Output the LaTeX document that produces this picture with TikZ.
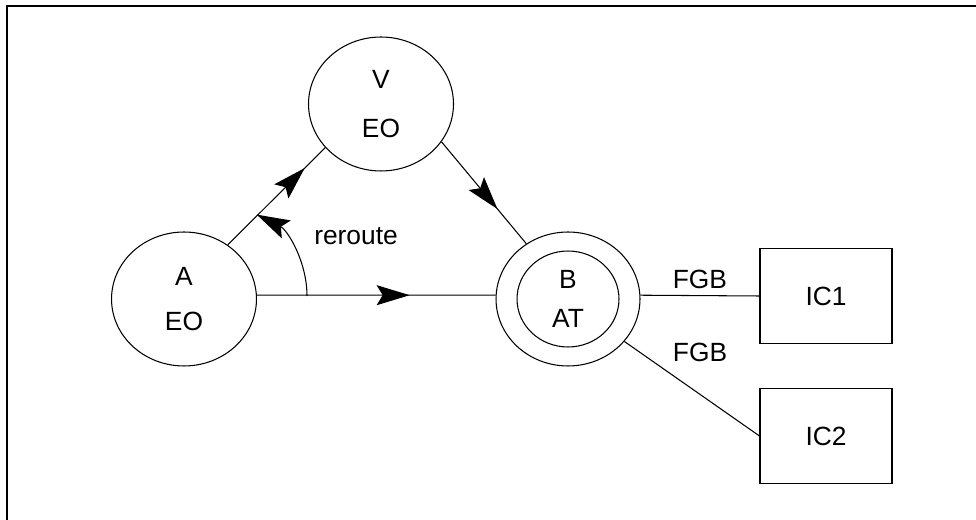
\documentclass[tikz,border=0pt]{standalone}
\usepackage{fontspec}
\setmainfont{Liberation Sans}
\usetikzlibrary{arrows.meta,decorations.markings,shapes.geometric}

\begin{document}
\begin{tikzpicture}[x=0.02cm,y=0.02cm,line width=0.6pt,
    >={Stealth[length=0.66cm,width=0.4cm,inset=0.12cm]},
    every node/.style={font=\fontsize{15}{17}\selectfont},
    eo/.style={draw,ellipse,minimum width=2.9cm,minimum height=2.68cm,align=center,inner sep=0pt},
    box/.style={draw,rectangle,minimum width=2.64cm,minimum height=1.9cm},
    midarrow/.style={postaction={decorate},
        decoration={markings,mark=at position #1 with {\arrow{>}}}}]
    \useasboundingbox (0,0) rectangle (976,520);
    \draw[line width=0.8pt] (7,-20) rectangle (1000,514);
    %% stations
    \node[eo] (A) at (184,221) {A\\[9pt]EO};
    \node[eo] (V) at (381,416) {V\\[11pt]EO};
    \node[eo,minimum width=2.88cm] (B) at (568,221) {};
    \node[eo,minimum width=2.04cm,minimum height=1.92cm] (Bin) at (B) {B\\[5pt]AT};
    \node[box] (IC1) at (826,224) {IC1};
    \node[box] (IC2) at (826,84) {IC2};
    %% routes
    \draw[midarrow=0.64] (A.3) -- (B.177);
    \draw[midarrow=0.79] (A.51) -- (V.218);
    \draw[midarrow=0.66] (V.-32) -- (B.127);
    \draw (B.3) -- (IC1.west) node[midway,above] (fgba) {FGB};
    \draw (B.-37) -- (IC2.west);
    \node (fgbb) at (700,168) {FGB};
    % reroute angle
    \coordinate (arcstart) at (307,224);
    \draw[->] (arcstart) arc[start angle=0,end angle=63.4,radius=91];
    \node (reroute) at (356,284) {reroute};
\end{tikzpicture}
\end{document}
